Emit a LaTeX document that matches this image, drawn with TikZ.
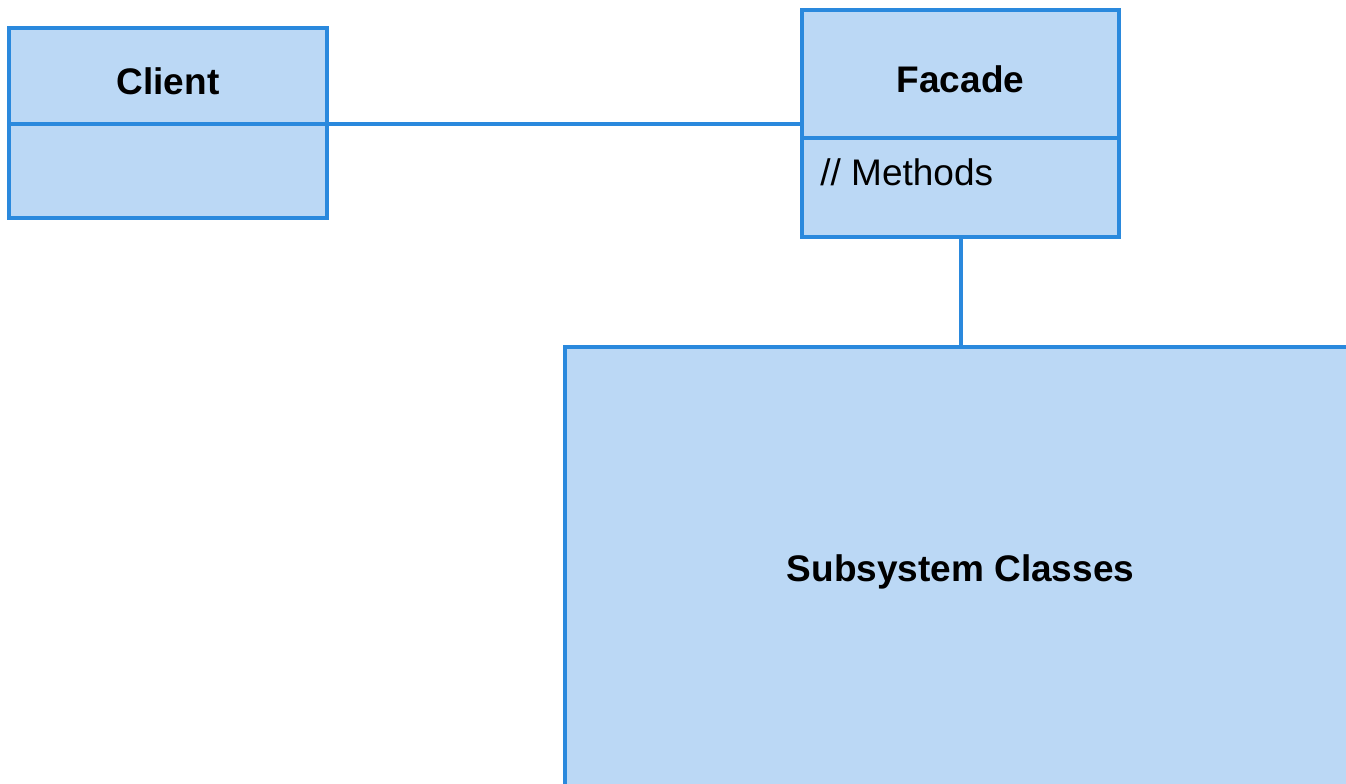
\documentclass[tikz,border=0pt]{standalone}
\usepackage{fontspec}
\setmainfont{Liberation Sans}
\usetikzlibrary{positioning}
\definecolor{classfill}{RGB}{187,216,245}
\definecolor{classline}{RGB}{42,137,221}

\begin{document}
\begin{tikzpicture}
            [
            x=0.5pt, y=-0.5pt,
            header/.style={
                rectangle,
                draw=classline,
                fill=classfill,
                line width=2pt,
                outer sep=0pt,
                minimum width=159pt,
                text height=18pt,
                text depth=0pt,
                font=\fontsize{18.5}{22}\selectfont\bfseries,
                align=center
            },
            body/.style={
                rectangle,
                draw=classline,
                fill=classfill,
                line width=2pt,
                outer sep=0pt,
                minimum width=159pt
            },
            subsys/.style={
                rectangle,
                draw=classline,
                fill=classfill,
                line width=2pt,
                outer sep=0pt,
                minimum width=396pt,
                minimum height=221pt,
                text depth=0pt,
                font=\fontsize{18.5}{22}\selectfont\bfseries
            },
            link/.style={
                draw=classline,
                line width=2pt
            }
            ]
            % frame of the picture
            \useasboundingbox (0,0) rectangle (1346,783);
            \clip (0,0) rectangle (1346,783);

            % Client class
            \node (client) [header, minimum height=48pt] at (168,76) {Client};
            \node (client-body) [body, minimum height=47pt, below=0pt of client] {};

            % Facade class
            \node (facade) [header, minimum height=64pt, minimum width=158.5pt] at (960.5,74) {Facade};
            \node (facade-body) [body, minimum height=49.5pt, minimum width=158.5pt, below=0pt of facade] {};
            \node (methods) [anchor=north west, inner sep=0pt, font=\fontsize{18.5}{22}\selectfont,
                xshift=9pt, yshift=-10pt] at (facade-body.north west) {// Methods};

            % the subsystem box runs past the frame
            \node (subsystem) [subsys, below=55pt of facade-body] {Subsystem Classes};

            % connectors
            \draw[link] (client.south east) -- (client.south east -| facade.west);
            \draw[link] (facade-body.south) -- (subsystem.north);

        \end{tikzpicture}
\end{document}
